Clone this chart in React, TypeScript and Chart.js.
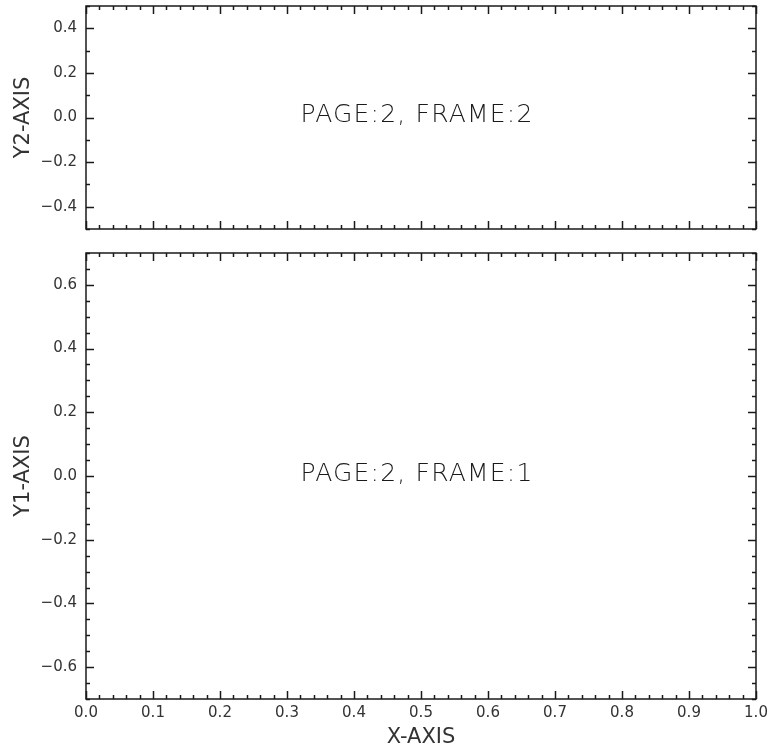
import React, { useEffect, useRef } from "react";
import { Chart, registerables } from "chart.js";

Chart.register(...registerables);

// Shared x range and tick spacing
const xRange = [0.0, 1.0];
const xTicks = [0.0, 0.1, 0.2, 0.3, 0.4, 0.5, 0.6, 0.7, 0.8, 0.9, 1.0];
const xMajorStep = 0.1;
const xMinorStep = 0.02;

// Upper frame (frame 2)
const topYRange = [-0.5, 0.5];
const topYTicks = [-0.4, -0.2, 0.0, 0.2, 0.4];
const topYMajorStep = 0.2;
const topYMinorStep = 0.1;
const topLabel = "PAGE:2, FRAME:2";
const topYTitle = "Y2-AXIS";

// Lower frame (frame 1)
const bottomYRange = [-0.7, 0.7];
const bottomYTicks = [-0.6, -0.4, -0.2, 0.0, 0.2, 0.4, 0.6];
const bottomYMajorStep = 0.2;
const bottomYMinorStep = 0.05;
const bottomLabel = "PAGE:2, FRAME:1";
const bottomYTitle = "Y1-AXIS";
const xTitle = "X-AXIS";

const INK = "#1a1a1a";
const TEXT = "#333333";
const FONT = "'DejaVu Sans', 'Liberation Sans', sans-serif";

const fmt = (v: number) => {
  const s = Math.abs(v) < 1e-9 ? "0.0" : Math.abs(v).toFixed(1);
  return v < -1e-9 ? "\u2212" + s : s;
};

type FrameSpec = {
  yRange: number[];
  yTicks: number[];
  yMajor: number;
  yMinor: number;
  label: string;
  yTitle: string;
  showX: boolean;
};

// Frame box with inward major/minor ticks on all four sides, plus the centred caption
const framePlugin = {
  id: "frameTicks",
  afterDraw(chart: any, _args: any, opts: any) {
    const { ctx, chartArea } = chart;
    const { left, right, top, bottom } = chartArea;
    const xs = chart.scales.x;
    const ys = chart.scales.y;
    ctx.save();
    ctx.strokeStyle = INK;
    ctx.lineWidth = 1.5;
    ctx.strokeRect(left, top, right - left, bottom - top);

    const marks = (min: number, max: number, minor: number, major: number) => {
      const out: { v: number; major: boolean }[] = [];
      const n = Math.round((max - min) / minor);
      for (let i = 0; i <= n; i++) {
        const v = min + i * minor;
        const r = v / major;
        out.push({ v, major: Math.abs(r - Math.round(r)) < 1e-6 });
      }
      return out;
    };

    ctx.beginPath();
    for (const m of marks(xRange[0], xRange[1], xMinorStep, xMajorStep)) {
      const px = Math.round(xs.getPixelForValue(m.v)) + 0.5;
      const len = m.major ? 8 : 4;
      ctx.moveTo(px, bottom);
      ctx.lineTo(px, bottom - len);
      ctx.moveTo(px, top);
      ctx.lineTo(px, top + len);
    }
    const yr = opts.yRange as number[];
    for (const m of marks(yr[0], yr[1], opts.yMinor, opts.yMajor)) {
      const py = Math.round(ys.getPixelForValue(m.v)) + 0.5;
      const len = m.major ? 8 : 4;
      ctx.moveTo(left, py);
      ctx.lineTo(left + len, py);
      ctx.moveTo(right, py);
      ctx.lineTo(right - len, py);
    }
    ctx.stroke();

    ctx.fillStyle = INK;
    ctx.font = `200 25px ${FONT}`;
    ctx.textAlign = "center";
    ctx.textBaseline = "middle";
    try {
      (ctx as any).letterSpacing = "1.2px";
    } catch (e) {}
    ctx.fillText(opts.label, (left + right) / 2 - 4, (top + bottom) / 2 - 2);
    ctx.restore();
  },
};

function Frame({ spec, height, top, padTop, xAxisHeight }: { spec: FrameSpec; height: number; top: number; padTop: number; xAxisHeight: number }) {
  const ref = useRef<HTMLCanvasElement | null>(null);
  useEffect(() => {
    if (!ref.current) return;
    const chart = new Chart(ref.current, {
      type: "scatter",
      data: { datasets: [{ data: [] }] },
      options: {
        animation: false,
        responsive: false,
        events: [],
        layout: { padding: { top: padTop, right: 13, left: 0, bottom: 0 } },
        plugins: {
          legend: { display: false },
          tooltip: { enabled: false },
          frameTicks: {
            yRange: spec.yRange,
            yMajor: spec.yMajor,
            yMinor: spec.yMinor,
            label: spec.label,
          },
        } as any,
        scales: {
          x: {
            type: "linear",
            position: "bottom",
            min: xRange[0],
            max: xRange[1],
            grid: { display: false, drawTicks: false },
            border: { display: false },
            afterBuildTicks: (s: any) => {
              s.ticks = xTicks.map((v) => ({ value: v }));
            },
            ticks: {
              display: spec.showX,
              autoSkip: false,
              maxRotation: 0,
              padding: 5,
              color: TEXT,
              font: { family: FONT, size: 15 },
              callback: (v: any) => fmt(Number(v)),
            },
            title: {
              display: spec.showX,
              text: xTitle,
              color: TEXT,
              font: { family: FONT, size: 21 },
              padding: { top: 0, bottom: 3 },
            },
            afterFit: (s: any) => {
              s.height = xAxisHeight;
              s.paddingLeft = 0;
              s.paddingRight = 0;
              s.paddingTop = 0;
              s.paddingBottom = 0;
            },
          },
          y: {
            type: "linear",
            min: spec.yRange[0],
            max: spec.yRange[1],
            grid: { display: false, drawTicks: false },
            border: { display: false },
            afterBuildTicks: (s: any) => {
              s.ticks = spec.yTicks.map((v) => ({ value: v }));
            },
            ticks: {
              autoSkip: false,
              padding: 9,
              color: TEXT,
              font: { family: FONT, size: 15 },
              callback: (v: any) => fmt(Number(v)),
            },
            title: {
              display: true,
              text: spec.yTitle,
              color: TEXT,
              font: { family: FONT, size: 21 },
              padding: { top: 11, bottom: 0 },
            },
            afterFit: (s: any) => {
              s.width = 86;
              s.paddingTop = 0;
              s.paddingBottom = 0;
              s.paddingLeft = 0;
              s.paddingRight = 0;
            },
          },
        },
      } as any,
      plugins: [framePlugin],
    });
    return () => chart.destroy();
  }, [spec, height, padTop, xAxisHeight]);

  return (
    <canvas
      ref={ref}
      width={769}
      height={height}
      style={{ position: "absolute", left: 0, top, width: 769, height, display: "block" }}
    />
  );
}

const topSpec: FrameSpec = {
  yRange: topYRange,
  yTicks: topYTicks,
  yMajor: topYMajorStep,
  yMinor: topYMinorStep,
  label: topLabel,
  yTitle: topYTitle,
  showX: false,
};

const bottomSpec: FrameSpec = {
  yRange: bottomYRange,
  yTicks: bottomYTicks,
  yMajor: bottomYMajorStep,
  yMinor: bottomYMinorStep,
  label: bottomLabel,
  yTitle: bottomYTitle,
  showX: true,
};

export default function App() {
  return (
    <div style={{ position: "fixed", left: 0, top: 0, width: 769, height: 753, background: "#fff" }}>
      <Frame spec={topSpec} height={240} top={0} padTop={6} xAxisHeight={11} />
      <Frame spec={bottomSpec} height={513} top={240} padTop={13} xAxisHeight={54} />
    </div>
  );
}
